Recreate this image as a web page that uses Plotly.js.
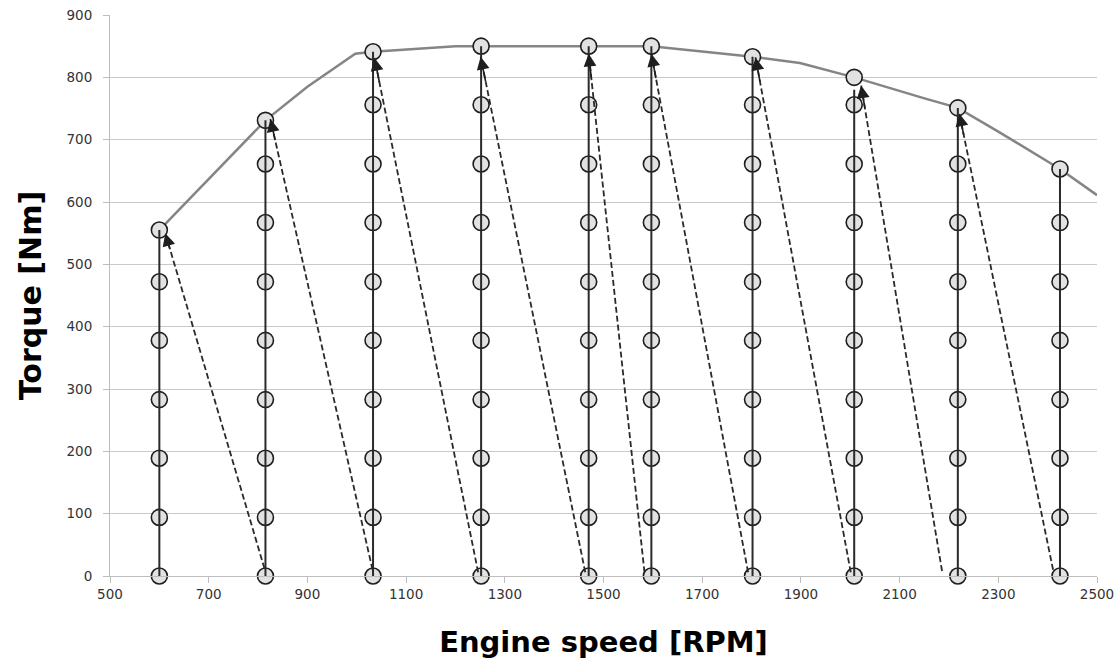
<!DOCTYPE html>
<html>
<head>
<meta charset="utf-8">
<script src="https://cdn.plot.ly/plotly-3.0.1.min.js"></script>
<style>html,body{margin:0;padding:0;background:#fff;}#chart{width:1117px;height:660px;}</style>
</head>
<body>
<div id="chart"></div>
<script>
// Measurement columns (engine speed, RPM)
const speeds = [600, 815, 1033, 1252, 1470, 1597, 1802, 2008, 2218, 2425];
// Full-load torque point measured at each column
const topTorque = [555, 731, 841, 850, 850, 850, 833, 800, 751, 653];
// Part-load torque levels
const gridLevels = [0, 94, 189, 283, 378, 472, 567, 661, 756];
// Number of part-load levels used in each column
const levelCount = [6, 8, 9, 9, 9, 9, 9, 9, 8, 7];
// Where each solid vertical sweep line ends
const solidTop = [555, 731, 841, 850, 850, 850, 833, 780, 751, 653];
// Full-load curve
const curveSpeed = [600, 815, 900, 997, 1033, 1100, 1200, 1597, 1802, 1898, 2008, 2147, 2218, 2300, 2425, 2500];
const curveTorque = [555, 731, 785, 838, 841, 845, 850, 850, 833, 823, 800, 767, 751, 713, 653, 611];
// Dashed transitions (from bottom of next column to top of previous one)
const dashFromX = [813, 1032, 1246, 1463, 1583, 1793, 2001, 2186, 2411];
const dashFromY = [12, 10, 6, 6, 6, 6, 6, 8, 10];
const dashToX = [612, 825, 1036, 1251, 1470, 1597, 1808, 2022, 2221];
const dashToY = [550, 733, 831, 833, 838, 838, 832, 787, 742];
// Axis ticks
const xTicks = [500, 700, 900, 1100, 1300, 1500, 1700, 1900, 2100, 2300, 2500];
const yTicks = [0, 100, 200, 300, 400, 500, 600, 700, 800, 900];

const traces = [];

// full-load curve
traces.push({
  x: curveSpeed, y: curveTorque, type: 'scatter', mode: 'lines',
  line: {color: '#858585', width: 2.5}, hoverinfo: 'skip', showlegend: false
});

// measurement points
const mx = [], my = [];
speeds.forEach((s, i) => {
  for (let k = 0; k < levelCount[i]; k++) { mx.push(s); my.push(gridLevels[k]); }
  mx.push(s); my.push(topTorque[i]);
});
traces.push({
  x: mx, y: my, type: 'scatter', mode: 'markers', cliponaxis: false,
  marker: {size: 16, color: '#e2e2e2', line: {color: '#1e1e1e', width: 1.6}},
  hoverinfo: 'skip', showlegend: false
});

// solid sweep lines
const sx = [], sy = [];
speeds.forEach((s, i) => { sx.push(s, s, null); sy.push(0, solidTop[i], null); });
traces.push({
  x: sx, y: sy, type: 'scatter', mode: 'lines', cliponaxis: false,
  line: {color: '#2a2a2a', width: 2}, hoverinfo: 'skip', showlegend: false
});

// dashed transitions
const dx = [], dy = [];
dashFromX.forEach((v, i) => { dx.push(v, dashToX[i], null); dy.push(dashFromY[i], dashToY[i], null); });
traces.push({
  x: dx, y: dy, type: 'scatter', mode: 'lines',
  line: {color: '#2a2a2a', width: 1.8, dash: '6px,3px'}, hoverinfo: 'skip', showlegend: false
});

// arrowheads at dashed line ends
const annotations = dashToX.map((tx, i) => {
  const ty = dashToY[i];
  return {
    x: tx, y: ty, xref: 'x', yref: 'y',
    ax: tx + (dashFromX[i] - tx) * 0.05, ay: ty + (dashFromY[i] - ty) * 0.05,
    axref: 'x', ayref: 'y', text: '', showarrow: true,
    arrowhead: 2, arrowsize: 1.6, arrowwidth: 1.6, arrowcolor: '#1e1e1e', standoff: 0
  };
});

const tickFont = {family: 'DejaVu Sans, Verdana, sans-serif', size: 13.5, color: '#333333'};
const xTitleFont = {family: 'DejaVu Sans, Verdana, sans-serif', size: 29, color: '#000', weight: 'bold'};
const yTitleFont = {family: 'DejaVu Sans, Verdana, sans-serif', size: 30, color: '#000', weight: 'bold'};

const layout = {
  width: 1117, height: 660,
  margin: {l: 110, r: 20, t: 15, b: 84},
  paper_bgcolor: '#fff', plot_bgcolor: '#fff',
  showlegend: false,
  xaxis: {
    range: [500, 2500], tickmode: 'array', tickvals: xTicks,
    showgrid: false, zeroline: false, showline: true, linecolor: '#bdbdbd', linewidth: 1,
    ticks: 'outside', ticklen: 6, tickcolor: '#bdbdbd', tickfont: tickFont,
    title: {text: 'Engine speed [RPM]', font: xTitleFont, standoff: 30}
  },
  yaxis: {
    range: [0, 900], tickmode: 'array', tickvals: yTicks,
    showgrid: true, gridcolor: '#c9c9c9', gridwidth: 1, zeroline: false,
    showline: true, linecolor: '#bdbdbd', linewidth: 1,
    ticks: 'outside', ticklen: 6, tickcolor: '#bdbdbd', tickfont: tickFont, ticklabelstandoff: 8,
    title: {text: 'Torque [Nm]', font: yTitleFont, standoff: 16}
  },
  annotations: annotations
};

Plotly.newPlot('chart', traces, layout, {displayModeBar: false, staticPlot: true});
</script>
</body>
</html>
